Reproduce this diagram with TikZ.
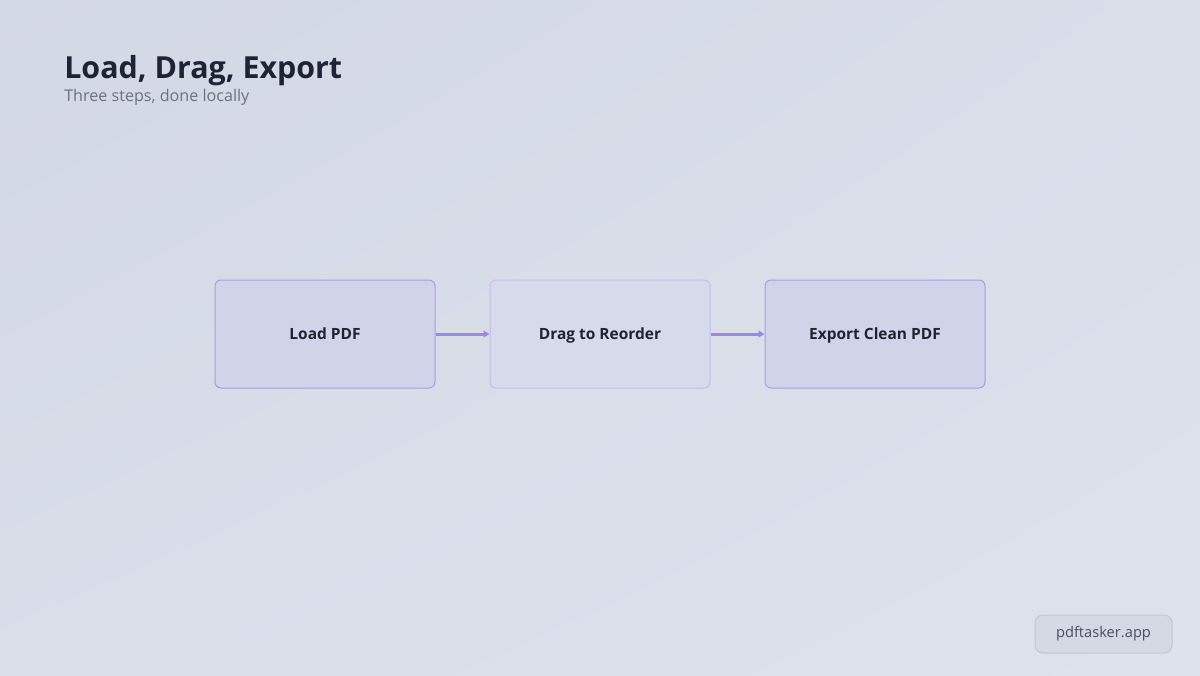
\documentclass[tikz,border=0pt]{standalone}
\usepackage{fontspec}
\setmainfont{Open Sans}
\usetikzlibrary{arrows.meta,positioning,shadings}

\definecolor{bgtl}{HTML}{D2D8E4}
\definecolor{bgmid}{HTML}{D9DEE9}
\definecolor{bgbr}{HTML}{DEE2ED}
\definecolor{boxfill}{HTML}{D1D4E8}
\definecolor{boxline}{HTML}{A79DE6}
\definecolor{softfill}{HTML}{D7DAEB}
\definecolor{softline}{HTML}{C4BFEA}
\definecolor{flow}{HTML}{9C88E6}
\definecolor{inkdark}{HTML}{1E2433}
\definecolor{inkgrey}{HTML}{6B7280}
\definecolor{tagfill}{HTML}{D4D9E4}
\definecolor{tagline}{HTML}{C1C6D3}
\definecolor{taginkk}{HTML}{4A5060}

\tikzset{
	stepbox/.style={draw=boxline, fill=boxfill, line width=0.75pt, rounded corners=4.5pt,
		minimum width=165pt, minimum height=81pt, text=inkdark,
		text height=10pt, text depth=1.2pt,
		font=\bfseries\fontsize{11.6}{14}\selectfont},
	softbox/.style={stepbox, draw=softline, fill=softfill},
	flowline/.style={draw=flow, line width=2.25pt, -{Triangle[length=4.5pt,width=5pt]}},
	tagbox/.style={draw=tagline, fill=tagfill, line width=0.75pt, rounded corners=6pt,
		minimum width=102.75pt, minimum height=28.5pt, text=taginkk,
		text height=7.5pt, text depth=2.5pt,
		font=\fontsize{11}{14}\selectfont}
}

\begin{document}
\begin{tikzpicture}[x=0.75pt, y=-0.75pt]
			%%%%% BACKGROUND %%%%%
			
			\useasboundingbox (0, 0) rectangle (1200, 675);
			\shade[upper left=bgtl, upper right=bgmid, lower left=bgmid, lower right=bgbr] (0, 0) rectangle (1200, 675);
			
			%%%%% TITLE %%%%%
			
			\node[anchor=base west, inner sep=0pt, text=inkdark, font=\bfseries\fontsize{22.8}{28}\selectfont] (title) at (64, 78) {Load, Drag, Export};
			\node[anchor=base west, inner sep=0pt, text=inkgrey, font=\fontsize{12.1}{14}\selectfont] (subtitle) at (64, 101) {Three steps, done locally};
			
			%%%%% STEPS %%%%%
			
			\node[stepbox] (load) at (325, 334) {Load PDF};
			\node[softbox] (drag) at (600, 334) {Drag to Reorder};
			\node[stepbox] (export) at (875, 334) {Export Clean PDF};
			
			\draw[flowline] (load.east) -- (drag.west);
			\draw[flowline] (drag.east) -- (export.west);
			
			%%%%% TAG %%%%%
			
			\node[tagbox] (site) at (1103.5, 634) {pdftasker.app};
			
		\end{tikzpicture}
\end{document}
